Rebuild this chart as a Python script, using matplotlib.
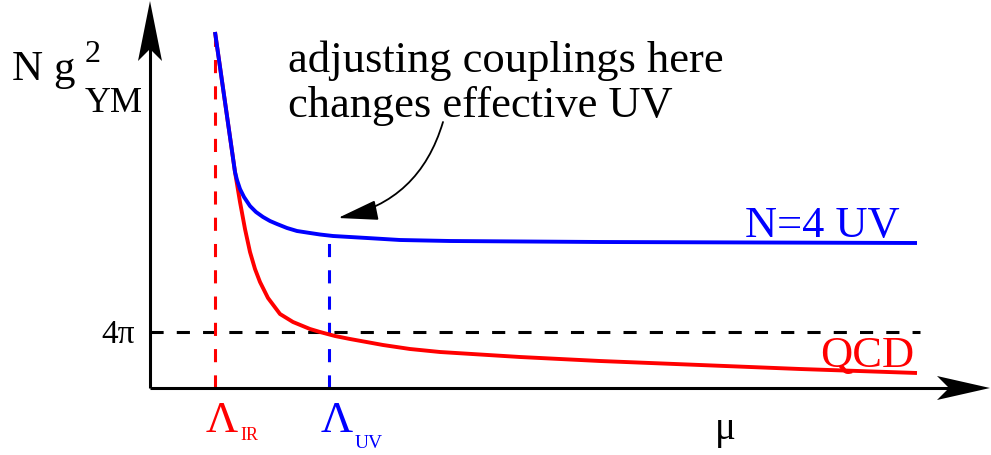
import matplotlib

matplotlib.use("Agg")
import matplotlib.pyplot as plt
from matplotlib.patches import Polygon

# schematic running couplings (mu in arbitrary units, y = N g_YM^2)
qcd_mu = [0.65, 0.70, 0.75, 0.80, 0.85, 0.90, 0.95, 1.00, 1.05, 1.10, 1.18, 1.30,
          1.43, 1.60, 1.70, 1.85, 2.00, 2.33, 2.60, 2.90, 3.70, 4.50, 5.50, 6.50,
          7.67]
qcd_g = [3.56, 3.21, 2.86, 2.51, 2.16, 1.86, 1.59, 1.36, 1.19, 1.06, 0.90, 0.74,
         0.66, 0.59, 0.56, 0.52, 0.49, 0.43, 0.39, 0.36, 0.31, 0.27, 0.23, 0.19,
         0.15]
n4_mu = [0.65, 0.70, 0.75, 0.80, 0.85, 0.87, 0.90, 0.94, 1.00, 1.06, 1.13, 1.20,
         1.27, 1.37, 1.47, 1.60, 1.70, 1.83, 2.00, 2.17, 2.50, 3.00, 4.50, 7.67]
n4_g = [3.56, 3.21, 2.86, 2.51, 2.16, 2.08, 1.99, 1.91, 1.82, 1.76, 1.71, 1.67,
        1.64, 1.60, 1.57, 1.55, 1.535, 1.52, 1.51, 1.50, 1.48, 1.47, 1.46, 1.45]

lambda_ir = 0.65
lambda_uv = 1.79
four_pi = 0.56
uv_top = 1.45
x_end, y_end = 8.40, 3.87
line_end = 7.70

RED = "#ff0000"
BLUE = "#0000ff"
SERIF = ["Liberation Serif", "DejaVu Serif"]

fig = plt.figure(figsize=(9.91, 4.56), dpi=100)
ax = fig.add_axes([0, 0, 1, 1])
ax.set_xlim(-1.5, 8.41)
ax.set_ylim(-0.67, 3.89)
ax.axis("off")

dash = (0, (4.3, 4.3))
ax.plot([0, line_end], [four_pi, four_pi], color="black", lw=2.2, ls=dash)
ax.plot([lambda_ir, lambda_ir], [0, qcd_g[0]], color=RED, lw=2.2, ls=dash)
ax.plot([lambda_uv, lambda_uv], [0, uv_top], color=BLUE, lw=2.2, ls=dash)

ax.plot(qcd_mu, qcd_g, color=RED, lw=2.8, solid_capstyle="butt", solid_joinstyle="round")
ax.plot(n4_mu, n4_g, color=BLUE, lw=2.8, solid_capstyle="butt", solid_joinstyle="round")


def stealth(tip, direction, length, half_w, notch):
    tx, ty = tip
    dx, dy = direction
    px, py = -dy, dx
    pts = [
        (tx, ty),
        (tx - dx * length + px * half_w, ty - dy * length + py * half_w),
        (tx - dx * (length - notch), ty - dy * (length - notch)),
        (tx - dx * length - px * half_w, ty - dy * length - py * half_w),
    ]
    return Polygon(pts, closed=True, color="black", lw=0)


# axes with arrow heads
ax.plot([0, x_end - 0.3], [0, 0], color="black", lw=2.2, solid_capstyle="butt")
ax.plot([0, 0], [0, y_end - 0.3], color="black", lw=2.2, solid_capstyle="butt")
ax.add_patch(stealth((x_end, 0), (1, 0), 0.53, 0.12, 0.12))
ax.add_patch(stealth((0, y_end), (0, 1), 0.60, 0.12, 0.12))

# y label
ax.text(-1.38, 3.09, "N g", fontsize=31, family=SERIF, va="baseline")
ax.text(-0.65, 3.27, "2", fontsize=23, family=SERIF, va="baseline")
ax.text(-0.65, 2.77, "YM", fontsize=26, family=SERIF, va="baseline")
ax.text(-0.15, 0.46, "4π", fontsize=24, family=SERIF, ha="right", va="baseline")

# x ticks
ax.text(lambda_ir + 0.07, -0.43, "Λ", fontsize=32, family=SERIF, color=RED,
        ha="center", va="baseline")
ax.text(lambda_ir + 0.25, -0.51, "IR", fontsize=13, family=SERIF, color=RED,
        va="baseline")
ax.text(lambda_uv + 0.08, -0.43, "Λ", fontsize=32, family=SERIF, color=BLUE,
        ha="center", va="baseline")
ax.text(lambda_uv + 0.26, -0.59, "UV", fontsize=14, family=SERIF, color=BLUE,
        va="baseline")
ax.text(5.65, -0.50, "μ", fontsize=28, family=SERIF, va="baseline")

# curve labels
ax.text(5.95, 1.52, "N=4 UV", fontsize=32, family=SERIF, color=BLUE, va="baseline")
ax.text(6.70, 0.22, "QCD", fontsize=32, family=SERIF, color=RED, va="baseline")

# annotation
ax.text(1.38, 3.17, "adjusting couplings here", fontsize=32, family=SERIF, va="baseline")
ax.text(1.38, 2.72, "changes effective UV", fontsize=32, family=SERIF, va="baseline")
ax.annotate("", xy=(1.88, 1.70), xytext=(2.93, 2.66),
            arrowprops=dict(arrowstyle="-|>,head_length=1.0,head_width=0.25",
                            connectionstyle="arc3,rad=-0.3", color="black",
                            lw=1.3, shrinkA=0, shrinkB=0, mutation_scale=25))

fig.savefig("out.png", dpi=100)
plt.close(fig)
